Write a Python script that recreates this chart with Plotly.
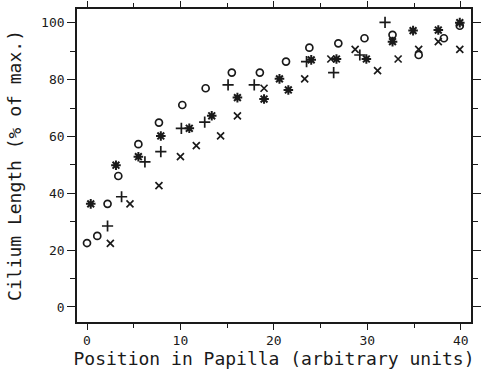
import plotly.graph_objects as go

# Data (position in papilla, cilium length % of max)
circle_x = [0.0, 1.1, 2.2, 3.35, 5.5, 7.7, 10.2, 12.7, 15.5, 18.5, 21.3, 23.8, 26.9, 29.7, 32.7, 35.5, 38.2, 39.9]
circle_y = [22.5, 25.0, 36.3, 46.1, 57.3, 64.9, 71.1, 77.0, 82.5, 82.5, 86.4, 91.3, 92.8, 94.6, 95.8, 88.7, 94.6, 99.0]

plus_x = [2.2, 3.7, 6.2, 7.9, 10.1, 12.6, 15.1, 17.9, 23.5, 26.4, 29.2, 31.9]
plus_y = [28.5, 38.8, 51.1, 54.7, 62.9, 65.1, 78.2, 78.2, 86.4, 82.5, 88.7, 100.2]

cross_x = [2.5, 4.6, 7.7, 10.0, 11.7, 14.3, 16.1, 18.95, 23.3, 26.1, 28.7, 31.1, 33.3, 35.5, 37.6, 39.9]
cross_y = [22.4, 36.3, 42.7, 52.9, 56.8, 60.2, 67.3, 77.0, 80.3, 87.3, 90.7, 83.2, 87.3, 90.7, 93.4, 90.7]

star_x = [0.4, 3.1, 5.5, 7.9, 10.95, 13.35, 16.1, 18.95, 20.6, 21.55, 24.0, 26.7, 29.9, 32.7, 34.9, 37.6, 39.9]
star_y = [36.3, 49.9, 52.9, 60.2, 62.9, 67.3, 73.7, 73.2, 80.3, 76.4, 87.0, 87.3, 87.3, 93.4, 97.3, 97.5, 100.1]

x_ticks = [0, 10, 20, 30, 40]
y_ticks = [0, 20, 40, 60, 80, 100]

INK = "#1a1a1a"
FONT = "DejaVu Sans Mono"

fig = go.Figure()
fig.add_trace(go.Scatter(x=circle_x, y=circle_y, mode="markers",
                         marker=dict(symbol="circle-open", size=7, color=INK, line=dict(width=1.7, color=INK))))
fig.add_trace(go.Scatter(x=plus_x, y=plus_y, mode="markers",
                         marker=dict(symbol="cross-thin-open", size=8, color=INK, line=dict(width=1.7, color=INK))))
fig.add_trace(go.Scatter(x=cross_x, y=cross_y, mode="markers",
                         marker=dict(symbol="x-thin-open", size=7, color=INK, line=dict(width=1.7, color=INK))))
fig.add_trace(go.Scatter(x=star_x, y=star_y, mode="markers",
                         marker=dict(symbol="asterisk-open", size=8, color=INK, line=dict(width=2, color=INK))))

axis_common = dict(showgrid=False, zeroline=False, showline=True, linecolor=INK, linewidth=1.6,
                   mirror="allticks", ticks="outside", tickcolor=INK, tickwidth=1.3, automargin=False,
                   tickfont=dict(family=FONT, size=13, color=INK))

fig.update_xaxes(range=[-1.07, 41.1], tickvals=x_ticks, ticktext=[str(v) for v in x_ticks], ticklen=6,
                 minor=dict(dtick=5, tick0=0, ticks="outside", ticklen=4, tickcolor=INK, tickwidth=1.2),
                 title=dict(text="Position in Papilla (arbitrary units)",
                            font=dict(family=FONT, size=18, color=INK), standoff=4),
                 **axis_common)
fig.update_yaxes(range=[-5.3, 104.9], tickvals=y_ticks, ticktext=[str(v) for v in y_ticks], ticklen=8,
                 minor=dict(dtick=10, tick0=0, ticks="outside", ticklen=5, tickcolor=INK, tickwidth=1.2),
                 title=dict(text="Cilium Length (% of max.)",
                            font=dict(family=FONT, size=18, color=INK), standoff=15),
                 **axis_common)

fig.update_layout(width=481, height=381, margin=dict(l=77, r=10, t=9, b=59, autoexpand=False),
                  paper_bgcolor="white", plot_bgcolor="white", showlegend=False)

fig.write_html("out.html")
